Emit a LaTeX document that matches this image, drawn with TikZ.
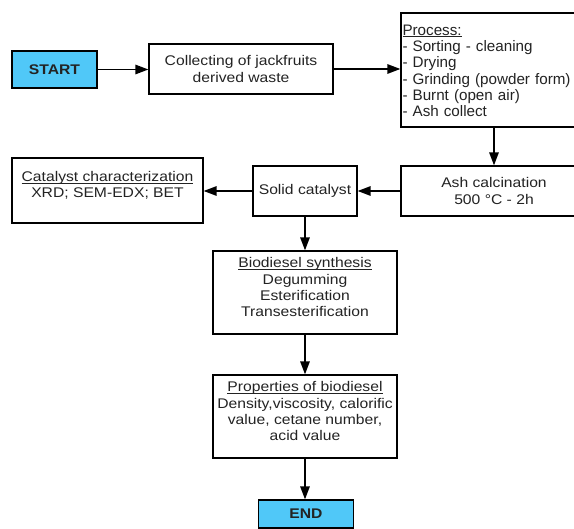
\documentclass[tikz,border=0pt]{standalone}
\usepackage{fontspec}
\setmainfont{Liberation Sans}
\newfontfamily\widefont[FakeStretch=1.12]{Liberation Sans}
\definecolor{boxblue}{RGB}{80,200,248}
\definecolor{txt}{RGB}{35,35,35}
\newcommand\ulx[1]{\underline{\smash{#1}}}
\usetikzlibrary{arrows.meta}
\begin{document}
\begin{tikzpicture}[x=1pt,y=-1pt,
  box/.style={draw=black, line width=1.3pt, fill=white, text=txt,
    font=\widefont\fontsize{14}{16.3}\selectfont, align=center, inner sep=0pt},
  term/.style={box, fill=boxblue, font=\widefont\fontsize{14}{16.3}\selectfont\bfseries},
  arr/.style={draw=black, line width=1.4pt, -{Triangle[length=13pt,width=9.5pt]}}]
\useasboundingbox (0,0) rectangle (574,529);
\node[term, minimum width=85, minimum height=37] (start) at (54.5,69.5) {START};
\node[box, minimum width=184, minimum height=50] (collect) at (241,69) {Collecting of jackfruits\\derived waste};
\node[box, text width=183, align=left, inner xsep=1.5pt, minimum height=114,
  font=\fontsize{15.2}{16.3}\selectfont] (process) at (494,70)
  {\mbox{}\\[-4.3pt]\ulx{Process:}\\- Sorting - cleaning\\- Drying\\- Grinding (powder form)\\- Burnt (open air)\\- Ash collect};
\node[box, minimum width=186, minimum height=50] (ash) at (494,191) {Ash calcination\\500 °C - 2h};
\node[box, minimum width=104, minimum height=50] (solid) at (305,191) {Solid catalyst};
\node[box, minimum width=191, minimum height=65] (char) at (107.5,190.5) {\ulx{Catalyst characterization}\\XRD; SEM-EDX; BET};
\node[box, minimum width=184, minimum height=83] (synth) at (305,292.5) {\ulx{Biodiesel synthesis}\\Degumming\\Esterification\\Transesterification};
\node[box, minimum width=184, minimum height=83] (props) at (305,416.5) {\ulx{Properties of biodiesel}\\Density,viscosity, calorific\\value, cetane number,\\acid value};
\node[term, minimum width=95, minimum height=28] (end) at (306,514) {END};
\draw[arr] (start.east) -- (start.east -| collect.west);
\draw[arr] (collect.east) -- (collect.east -| process.west);
\draw[arr] (process.south) -- (ash.north);
\draw[arr] (ash.west) -- (ash.west -| solid.east);
\draw[arr] (solid.west) -- (solid.west -| char.east);
\draw[arr] (solid.south) -- (solid.south |- synth.north);
\draw[arr] (synth.south) -- (props.north);
\draw[arr] (props.south) -- (props.south |- end.north);
\end{tikzpicture}
\end{document}
